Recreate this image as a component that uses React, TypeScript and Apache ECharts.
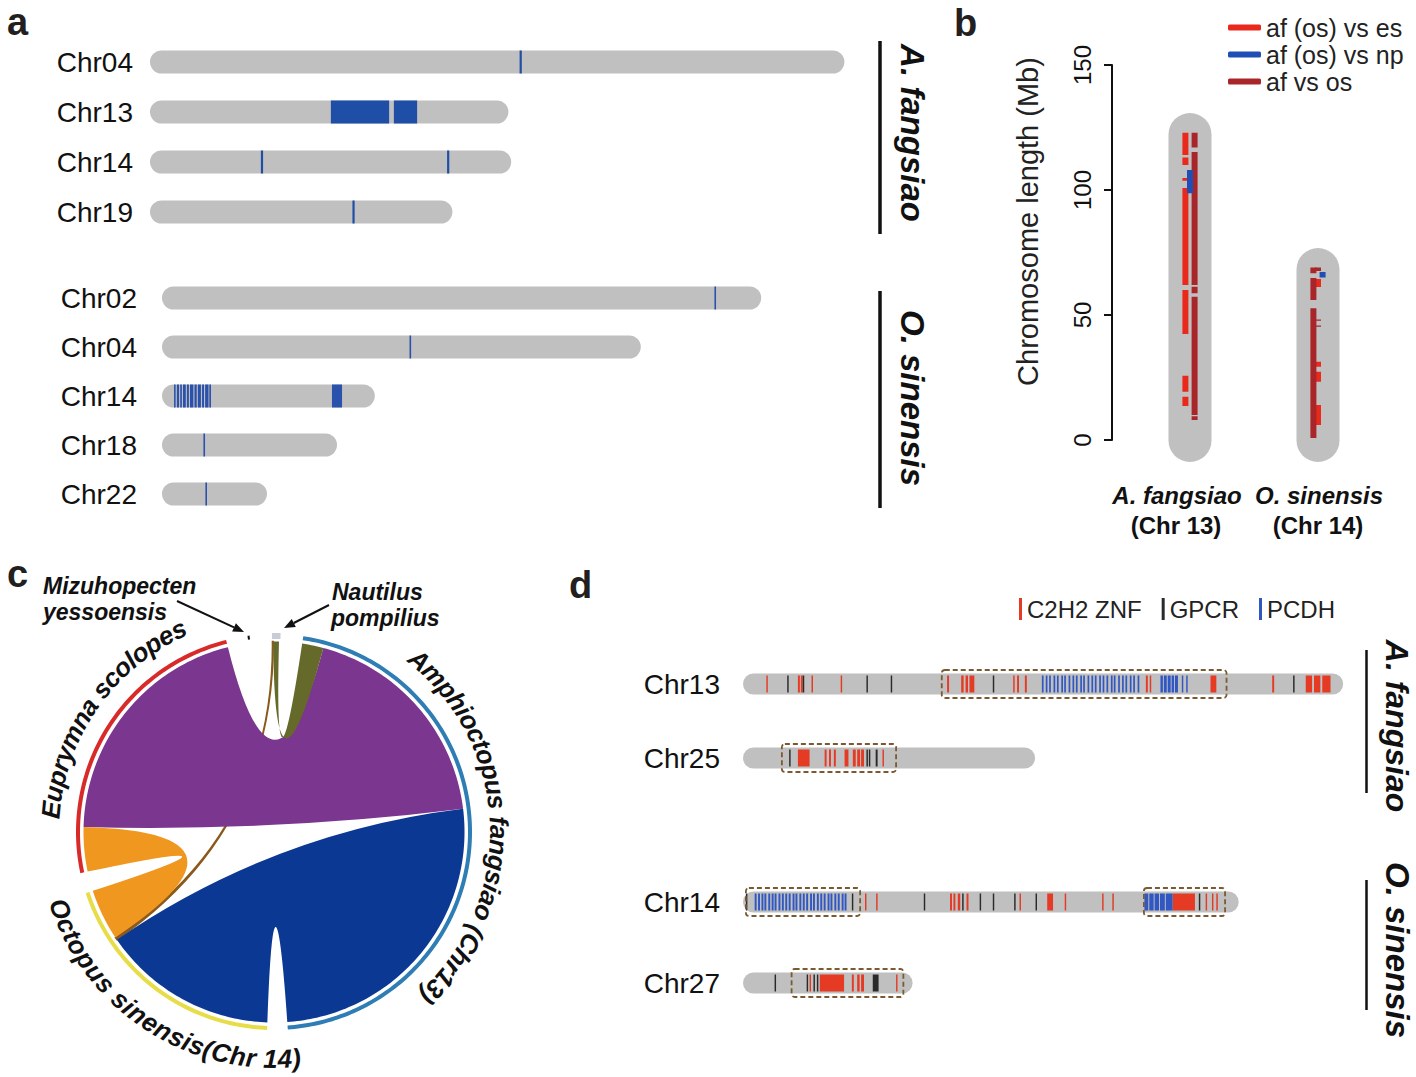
import React, { useEffect, useRef } from 'react';
import * as echarts from 'echarts';

const FONT = '"Liberation Sans", Arial, Helvetica, sans-serif';

// ---------------- Panel a ----------------
const aAfChroms = ['Chr04', 'Chr13', 'Chr14', 'Chr19'];
const aAfLengths = [248, 128, 129, 108];
const aAfBands = [
  [0, 132.0, 132.7], [1, 64.6, 85.4], [1, 87.1, 95.4], [2, 39.6, 40.3], [2, 106.1, 106.8], [3, 72.3, 73.0],
];
const aOsChroms = ['Chr02', 'Chr04', 'Chr14', 'Chr18', 'Chr22'];
const aOsLengths = [214, 171, 76, 62.5, 37.5];
const aOsBands = [
  [0, 197.3, 197.8], [1, 88.4, 88.9],
  [2, 4.3, 4.8], [2, 5.3, 6.1], [2, 6.5, 7.1], [2, 7.5, 8.5], [2, 8.9, 9.6], [2, 10.0, 11.2],
  [2, 11.6, 12.4], [2, 12.8, 13.9], [2, 14.3, 15.0], [2, 15.4, 16.6], [2, 16.9, 17.5], [2, 60.7, 64.3],
  [3, 14.8, 15.3], [4, 15.5, 16.0],
];

// ---------------- Panel b ----------------
const bCats = ['A. fangsiao (Chr 13)', 'O. sinensis (Chr 14)'];
const bChromLengths = [122, 68];
const bSeriesNames = ['af (os) vs es', 'af (os) vs np', 'af vs os'];
// [chromosome, lane, start Mb, end Mb]
const bVsEs = [
  [0, -1, 114, 122.9], [0, -1, 110, 113], [0, -1, 103.7, 104.8], [0, -1, 62, 100.8], [0, -1, 42.4, 60],
  [0, -1, 19.3, 25.7], [0, -1, 13.6, 17.3],
  [1, 0, 61.2, 64.4], [1, 0, 29.3, 31.3], [1, 0, 23.3, 27.3], [1, 0, 6, 14],
];
const bAfVsOs = [
  [0, 1, 117, 122.9], [0, 1, 62, 115.2], [0, 1, 58.7, 61.3], [0, 1, 10, 57.3], [0, 1, 8, 9.5],
  [1, -1, 66.7, 69], [1, 0, 67.6, 69], [1, -1, 56, 64.8], [1, -1, 0.8, 52.7], [1, 0, 47.7, 48.2], [1, 0, 45.3, 45.8],
];
const bVsNp = [[0, 0, 98.7, 108], [1, 1, 65, 67.2]];

// ---------------- Panel c ----------------
const cSpecies = ['Amphioctopus fangsiao (Chr13)', 'Octopus sinensis(Chr 14)', 'Euprymna scolopes', 'Mizuhopecten yessoensis', 'Nautilus pompilius'];
const cArcStart = [8.5, 182, 258, 352.3, -0.6];
const cArcEnd = [176, 252, 346, 352.9, 1.9];
// [startA, endA, startB, endB] in degrees clockwise from top
const cLinks = [
  [235.6, 236.4, 359.5, 359.8],
  [271.5, 346, 15, 83],
  [236.4, 252, 258, 271.5],
  [83, 176, 182, 235.6],
  [-0.2, 1.5, 8.5, 15],
];

// ---------------- Panel d ----------------
const dChroms = ['Chr13', 'Chr25', 'Chr14', 'Chr27'];
const dLengths = [123.5, 60.1, 102, 34.9];
const dFamilies = ['C2H2 ZNF', 'GPCR', 'PCDH'];
// [chromosome, position, width]
const dZnf = [
  [0, 4.8, 0.3], [0, 11.3, 0.4], [0, 11.9, 0.4], [0, 14.1, 0.3], [0, 20.1, 0.3], [0, 42.0, 0.4], [0, 44.9, 0.5],
  [0, 45.8, 0.5], [0, 46.6, 1.0], [0, 55.6, 0.3], [0, 56.4, 0.4], [0, 58.0, 0.4], [0, 82.9, 0.4], [0, 83.7, 0.3],
  [0, 96.2, 1.2], [0, 108.9, 0.4], [0, 115.8, 1.3], [0, 117.5, 1.3], [0, 119.2, 1.7],
  [1, 11.3, 2.4], [1, 16.8, 0.4], [1, 17.7, 0.4], [1, 18.7, 0.4], [1, 20.9, 0.8], [1, 22.6, 0.6], [1, 23.5, 0.6],
  [1, 24.3, 0.6], [1, 28.7, 0.3],
  [2, 25.1, 0.3], [2, 27.4, 0.3], [2, 42.6, 0.4], [2, 43.3, 0.4], [2, 44.2, 0.5], [2, 46.0, 0.4], [2, 56.9, 0.3],
  [2, 62.6, 1.2], [2, 66.2, 0.3], [2, 73.9, 0.3], [2, 76.0, 0.3], [2, 88.4, 4.6], [2, 95.2, 0.3], [2, 96.5, 0.3],
  [2, 97.4, 0.3],
  [3, 13.7, 0.3], [3, 15.8, 5.0], [3, 22.4, 0.4], [3, 23.5, 0.5], [3, 24.3, 0.6], [3, 31.5, 0.3],
];
const dGpcr = [
  [0, 9.1, 0.3], [0, 12.3, 0.3], [0, 25.4, 0.3], [0, 30.4, 0.3], [0, 51.4, 0.3], [0, 113.2, 0.3],
  [1, 9.5, 0.3], [1, 25.4, 0.3], [1, 25.9, 0.3], [1, 27.3, 0.4],
  [2, 0.6, 0.3], [2, 22.4, 0.3], [2, 37.2, 0.3], [2, 45.1, 0.3], [2, 48.7, 0.3], [2, 51.4, 0.3], [2, 55.8, 0.3],
  [2, 60.2, 0.3], [2, 93.8, 0.3],
  [3, 6.5, 0.3], [3, 13.1, 0.3], [3, 14.5, 0.3], [3, 15.2, 0.3], [3, 26.7, 1.2],
];
const dPcdh = [
  [0, 61.5, 0.35], [0, 62.3, 0.35], [0, 63.0, 0.35], [0, 63.9, 0.35], [0, 64.6, 0.35], [0, 65.5, 0.35],
  [0, 66.1, 0.35], [0, 67.0, 0.35], [0, 67.8, 0.35], [0, 68.5, 0.35], [0, 69.4, 0.35], [0, 70.0, 0.35],
  [0, 70.9, 0.35], [0, 71.7, 0.35], [0, 72.4, 0.35], [0, 73.3, 0.35], [0, 74.0, 0.35], [0, 74.8, 0.35],
  [0, 75.7, 0.35], [0, 76.3, 0.35], [0, 77.2, 0.35], [0, 78.0, 0.35], [0, 78.7, 0.35], [0, 79.6, 0.35],
  [0, 80.3, 0.35], [0, 81.2, 0.35], [0, 85.9, 0.5], [0, 86.6, 0.6], [0, 87.4, 0.6], [0, 88.2, 0.5],
  [0, 88.9, 0.6], [0, 90.3, 0.3], [0, 91.2, 0.3],
  [2, 2.4, 0.4], [2, 3.1, 0.4], [2, 3.8, 0.4], [2, 4.4, 0.4], [2, 5.2, 0.4], [2, 5.9, 0.4], [2, 6.5, 0.4],
  [2, 7.3, 0.4], [2, 8.0, 0.4], [2, 8.7, 0.4], [2, 9.4, 0.4], [2, 10.2, 0.4], [2, 10.8, 0.4], [2, 11.6, 0.4],
  [2, 12.3, 0.4], [2, 13.0, 0.4], [2, 13.8, 0.4], [2, 14.4, 0.4], [2, 15.2, 0.4], [2, 15.9, 0.4], [2, 16.6, 0.4],
  [2, 17.4, 0.4], [2, 18.0, 0.4], [2, 18.8, 0.4], [2, 19.5, 0.4], [2, 20.3, 0.4], [2, 20.9, 0.4],
  [2, 82.6, 0.8], [2, 83.6, 0.9], [2, 84.7, 0.9], [2, 85.8, 1.0], [2, 87.0, 1.4],
];
// [chromosome, start, end]
const dBoxes = [[0, 40.9, 99.5], [1, 8.0, 31.5], [2, 0.6, 24.1], [2, 82.5, 99.2], [3, 10.0, 33.0]];

// ---------------- styles ----------------
const GRAY = '#c0c0c0';
const C_CX = 274;
const C_CY = 832;
const C_R = 196;
const ringColors = ['#2e7db4', '#e7dd48', '#d92a2a', '#111111', '#c9ccd6'];
const ringWidths = [4, 4, 4, 4, 6];
const linkColors = ['#8a5a1c', '#7b368f', '#f0971f', '#0a3893', '#656a2b'];
const bColors = ['#e8291c', '#1f4fb4', '#a8262a'];
const dColors = ['#e53a24', '#2a2a2a', '#3157c2'];

const norm = (a: number) => ((a % 360) + 360) % 360;

function txt(x: number, y: number, text: string, size: number, opts: any = {}) {
  const style: any = {
    text,
    fontSize: size,
    fontFamily: FONT,
    fontWeight: opts.weight || 'normal',
    fontStyle: opts.italic ? 'italic' : 'normal',
    fill: opts.fill || '#111',
    align: opts.align || 'left',
    textAlign: opts.align || 'left',
    verticalAlign: 'middle',
    textVerticalAlign: 'middle',
  };
  if (opts.lineHeight) style.lineHeight = opts.lineHeight;
  return { type: 'text', x, y, rotation: opts.rotation || 0, style };
}

function arrow(x1: number, y1: number, x2: number, y2: number) {
  const ang = Math.atan2(y2 - y1, x2 - x1);
  const L = 11, W = 4.5;
  const bx = x2 - L * Math.cos(ang), by = y2 - L * Math.sin(ang);
  return [
    { type: 'line', shape: { x1, y1, x2: bx, y2: by }, style: { stroke: '#111', lineWidth: 2 } },
    {
      type: 'polygon',
      shape: {
        points: [
          [x2, y2],
          [bx + W * Math.sin(ang), by - W * Math.cos(ang)],
          [bx - W * Math.sin(ang), by + W * Math.cos(ang)],
        ],
      },
      style: { fill: '#111' },
    },
  ];
}

function arcLabel(text: string, midDeg: number, r: number, dir: number, size: number) {
  const ctx = document.createElement('canvas').getContext('2d') as CanvasRenderingContext2D;
  ctx.font = `italic bold ${size}px "Liberation Sans"`;
  const chars = Array.from(text);
  const ws = chars.map((ch) => ctx.measureText(ch).width);
  const total = ws.reduce((s, w) => s + w, 0);
  const mid = (midDeg * Math.PI) / 180;
  const els: any[] = [];
  let acc = 0;
  chars.forEach((ch, i) => {
    const off = (acc + ws[i] / 2 - total / 2) / r;
    acc += ws[i];
    if (ch === ' ') return;
    const th = mid + dir * off;
    const x = C_CX + r * Math.sin(th);
    const y = C_CY - r * Math.cos(th);
    const rot = dir === 1 ? -th : Math.PI - th;
    els.push(txt(x, y, ch, size, { rotation: rot, weight: 'bold', italic: true, align: 'center' }));
  });
  return els;
}

function hChrom(h: number) {
  return (params: any, api: any) => {
    const row = api.value(0);
    const len = api.value(1);
    const p0 = api.coord([0, row]);
    const p1 = api.coord([len, row]);
    return {
      type: 'rect',
      shape: { x: p0[0], y: p0[1] - h / 2, width: p1[0] - p0[0], height: h, r: h / 2 },
      style: { fill: GRAY },
    };
  };
}

function hBand(h: number, color: string, minW: number) {
  return (params: any, api: any) => {
    const row = api.value(0);
    const p0 = api.coord([api.value(1), row]);
    const p1 = api.coord([api.value(2), row]);
    return {
      type: 'rect',
      shape: { x: p0[0], y: p0[1] - h / 2, width: Math.max(p1[0] - p0[0], minW), height: h },
      style: { fill: color },
    };
  };
}

function hBox(params: any, api: any) {
  const row = api.value(0);
  const p0 = api.coord([api.value(1), row]);
  const p1 = api.coord([api.value(2), row]);
  const h = 28;
  return {
    type: 'rect',
    shape: { x: p0[0], y: p0[1] - h / 2, width: p1[0] - p0[0], height: h, r: 3 },
    style: { fill: 'none', stroke: '#7a5a30', lineWidth: 1.8, lineDash: [5, 3] },
  };
}

function vPill(params: any, api: any) {
  const cat = api.value(0);
  const len = api.value(1);
  const top = api.coord([cat, len + 8.8]);
  const bot = api.coord([cat, -8.8]);
  const w = 43;
  return {
    type: 'rect',
    shape: { x: top[0] - w / 2, y: top[1], width: w, height: bot[1] - top[1], r: w / 2 },
    style: { fill: GRAY },
  };
}

function vSeg(color: string) {
  return (params: any, api: any) => {
    const cat = api.value(0);
    const lane = api.value(1);
    const a = api.coord([cat, api.value(3)]);
    const b = api.coord([cat, api.value(2)]);
    const w = 6;
    return {
      type: 'rect',
      shape: { x: a[0] + lane * 4.6 - w / 2, y: a[1], width: w, height: Math.max(b[1] - a[1], 1.2) },
      style: { fill: color },
    };
  };
}

function ringItem(params: any, api: any) {
  const s = api.value(0), e = api.value(1), i = api.value(2);
  const n = Math.max(2, Math.ceil((e - s) / 1));
  const pts: number[][] = [];
  for (let k = 0; k <= n; k++) pts.push(api.coord([1, norm(s + ((e - s) * k) / n)]));
  return {
    type: 'polyline',
    shape: { points: pts },
    style: { stroke: ringColors[i], lineWidth: ringWidths[i], fill: null },
  };
}

function ribbonItem(params: any, api: any) {
  const a1 = api.value(0), a2 = api.value(1), b1 = api.value(2), b2 = api.value(3), ci = api.value(4);
  const R = 0.972;
  const c = api.coord([0, 0]);
  const arc = (s: number, e: number) => {
    const n = Math.max(2, Math.ceil(Math.abs(e - s)));
    const pts: number[][] = [];
    for (let k = 0; k <= n; k++) pts.push(api.coord([R, norm(s + ((e - s) * k) / n)]));
    return pts;
  };
  const A = arc(a1, a2);
  const B = arc(b1, b2);
  const f = (p: number[]) => p[0].toFixed(2) + ' ' + p[1].toFixed(2);
  let d = 'M' + f(A[0]);
  A.slice(1).forEach((p) => (d += 'L' + f(p)));
  d += 'Q' + f(c) + ' ' + f(B[0]);
  B.slice(1).forEach((p) => (d += 'L' + f(p)));
  d += 'Q' + f(c) + ' ' + f(A[0]) + 'Z';
  const thin = ci < 1;
  return {
    type: 'path',
    shape: { pathData: d },
    style: { fill: linkColors[ci], stroke: thin ? linkColors[ci] : null, lineWidth: thin ? 1.3 : 0 },
  };
}

function buildOption() {
  const dSplit = (arr: number[][], half: number) =>
    arr.filter((r) => (half === 0 ? r[0] < 2 : r[0] >= 2)).map((r) => [half === 0 ? r[0] : r[0] - 2, r[1], r[1] + r[2]]);
  const dBoxSplit = (half: number) =>
    dBoxes.filter((r) => (half === 0 ? r[0] < 2 : r[0] >= 2)).map((r) => [half === 0 ? r[0] : r[0] - 2, r[1], r[2]]);
  const dFamData = [dZnf, dGpcr, dPcdh];

  const catLabel = (size: number, margin: number) => ({
    fontSize: size,
    fontFamily: FONT,
    color: '#111',
    margin,
  });
  const hiddenCat = (data: string[], size: number, margin: number, gridIndex: number) => ({
    type: 'category',
    gridIndex,
    data,
    inverse: true,
    axisLine: { show: false },
    axisTick: { show: false },
    axisLabel: catLabel(size, margin),
  });
  const hiddenVal = (max: number, gridIndex: number) => ({
    type: 'value', gridIndex, min: 0, max, show: false, splitLine: { show: false },
  });

  const series: any[] = [];
  // panel a
  series.push({ type: 'custom', xAxisIndex: 0, yAxisIndex: 0, renderItem: hChrom(23), encode: { x: 1, y: 0 }, data: aAfLengths.map((l, i) => [i, l]), silent: true });
  series.push({ type: 'custom', xAxisIndex: 0, yAxisIndex: 0, renderItem: hBand(23, '#1f4ea6', 2.2), encode: { x: [1, 2], y: 0 }, data: aAfBands, silent: true });
  series.push({ type: 'custom', xAxisIndex: 1, yAxisIndex: 1, renderItem: hChrom(23), encode: { x: 1, y: 0 }, data: aOsLengths.map((l, i) => [i, l]), silent: true });
  series.push({ type: 'custom', xAxisIndex: 1, yAxisIndex: 1, renderItem: hBand(23, '#2a52ac', 1.6), encode: { x: [1, 2], y: 0 }, data: aOsBands, silent: true });
  // panel b
  series.push({ type: 'custom', xAxisIndex: 2, yAxisIndex: 2, renderItem: vPill, encode: { x: 0, y: 1 }, data: bChromLengths.map((l, i) => [i, l]), silent: true });
  [bVsEs, bAfVsOs, bVsNp].forEach((arr, k) => {
    const idx = k === 0 ? 0 : k === 1 ? 2 : 1;
    series.push({
      type: 'custom', name: bSeriesNames[idx], xAxisIndex: 2, yAxisIndex: 2,
      itemStyle: { color: bColors[idx] }, renderItem: vSeg(bColors[idx]), encode: { x: 0, y: [2, 3] }, data: arr, silent: true,
    });
  });
  // panel c
  series.push({
    type: 'custom', coordinateSystem: 'polar', polarIndex: 0, renderItem: ribbonItem, silent: true,
    data: cLinks.map((l, i) => [l[0], l[1], l[2], l[3], i]),
  });
  series.push({
    type: 'custom', coordinateSystem: 'polar', polarIndex: 0, renderItem: ringItem, silent: true,
    data: cSpecies.map((s, i) => [cArcStart[i], cArcEnd[i], i]),
  });
  // panel d
  [0, 1].forEach((half) => {
    series.push({ type: 'custom', xAxisIndex: 3 + half, yAxisIndex: 3 + half, renderItem: hChrom(21), encode: { x: 1, y: 0 }, data: dLengths.slice(half * 2, half * 2 + 2).map((l, i) => [i, l]), silent: true });
    dFamData.forEach((arr, k) => {
      series.push({
        type: 'custom', name: dFamilies[k], xAxisIndex: 3 + half, yAxisIndex: 3 + half, itemStyle: { color: dColors[k] },
        renderItem: hBand(17, dColors[k], 1.4), encode: { x: [1, 2], y: 0 }, data: dSplit(arr, half), silent: true,
      });
    });
    series.push({ type: 'custom', xAxisIndex: 3 + half, yAxisIndex: 3 + half, renderItem: hBox, encode: { x: [1, 2], y: 0 }, data: dBoxSplit(half), silent: true });
  });

  const graphic: any[] = [
    txt(7, 22, 'a', 38, { weight: 'bold', fill: '#231f20' }),
    txt(954, 23, 'b', 38, { weight: 'bold', fill: '#231f20' }),
    txt(7, 574, 'c', 38, { weight: 'bold', fill: '#231f20' }),
    txt(569, 585, 'd', 38, { weight: 'bold', fill: '#231f20' }),
    // panel a species
    { type: 'line', shape: { x1: 880, y1: 41, x2: 880, y2: 234 }, style: { stroke: '#111', lineWidth: 3.5 } },
    { type: 'line', shape: { x1: 880, y1: 291, x2: 880, y2: 508 }, style: { stroke: '#111', lineWidth: 3.5 } },
    txt(912, 133, 'A. fangsiao', 33, { weight: 'bold', italic: true, align: 'center', rotation: -Math.PI / 2 }),
    txt(912, 398, 'O. sinensis', 33, { weight: 'bold', italic: true, align: 'center', rotation: -Math.PI / 2 }),
    // panel d species
    { type: 'line', shape: { x1: 1366.5, y1: 650, x2: 1366.5, y2: 793 }, style: { stroke: '#111', lineWidth: 2.5 } },
    { type: 'line', shape: { x1: 1366.5, y1: 880, x2: 1366.5, y2: 1010 }, style: { stroke: '#111', lineWidth: 2.5 } },
    txt(1397, 726, 'A. fangsiao', 32, { weight: 'bold', italic: true, align: 'center', rotation: -Math.PI / 2 }),
    txt(1397, 950, 'O. sinensis', 33, { weight: 'bold', italic: true, align: 'center', rotation: -Math.PI / 2 }),
    // panel b x labels
    txt(1177, 495, 'A. fangsiao', 24, { weight: 'bold', italic: true, align: 'center' }),
    txt(1176, 525, '(Chr 13)', 24, { weight: 'bold', align: 'center' }),
    txt(1319, 495, 'O. sinensis', 24, { weight: 'bold', italic: true, align: 'center' }),
    txt(1318, 525, '(Chr 14)', 24, { weight: 'bold', align: 'center' }),
    // panel c top labels
    txt(43, 586, 'Mizuhopecten', 23, { weight: 'bold', italic: true }),
    txt(43, 612, 'yessoensis', 23, { weight: 'bold', italic: true }),
    txt(332, 592, 'Nautilus', 23, { weight: 'bold', italic: true }),
    txt(331, 618, 'pompilius', 23, { weight: 'bold', italic: true }),
    ...arrow(177, 601, 244, 632),
    ...arrow(329, 605, 284, 628),
    ...arcLabel(cSpecies[2], 305, 224, 1, 26),
    ...arcLabel(cSpecies[0], 88, 225, 1, 26),
    ...arcLabel(cSpecies[1], 213, 227, -1, 26),
  ];

  return {
    animation: false,
    backgroundColor: '#ffffff',
    textStyle: { fontFamily: FONT },
    tooltip: { show: false },
    legend: [
      {
        data: bSeriesNames, orient: 'vertical', left: 1223, top: 10, itemWidth: 33, itemHeight: 6, itemGap: 2,
        icon: 'roundRect', selectedMode: false, textStyle: { fontSize: 25, color: '#222', fontFamily: FONT },
      },
      {
        data: dFamilies, orient: 'horizontal', left: 1014, top: 592, itemWidth: 3, itemHeight: 22, itemGap: 20,
        icon: 'rect', selectedMode: false, textStyle: { fontSize: 24, color: '#222', fontFamily: FONT },
      },
    ],
    grid: [
      { left: 150, top: 37, width: 700, height: 200 },
      { left: 162, top: 273.5, width: 700, height: 245 },
      { left: 1126, top: 65, width: 256, height: 375 },
      { left: 743, top: 647, width: 602.6, height: 148 },
      { left: 743, top: 861.5, width: 602.6, height: 162 },
    ],
    xAxis: [
      hiddenVal(250, 0),
      hiddenVal(250, 1),
      { type: 'category', gridIndex: 2, data: bCats, show: false },
      hiddenVal(124, 3),
      hiddenVal(124, 4),
    ],
    yAxis: [
      hiddenCat(aAfChroms, 28, 17, 0),
      hiddenCat(aOsChroms, 28, 25, 1),
      {
        type: 'value', gridIndex: 2, min: 0, max: 150, interval: 50, offset: 14,
        name: 'Chromosome length (Mb)', nameLocation: 'middle', nameGap: 70, nameRotate: 90,
        nameTextStyle: { fontSize: 29, color: '#222', fontFamily: FONT, padding: [0, 0, 0, 62] },
        axisLine: { show: true, lineStyle: { color: '#111', width: 2 } },
        axisTick: { show: true, length: 8, lineStyle: { color: '#111', width: 2 } },
        axisLabel: { rotate: 90, fontSize: 24, color: '#111', margin: 18, fontFamily: FONT },
        splitLine: { show: false },
      },
      hiddenCat(dChroms.slice(0, 2), 28, 23, 3),
      hiddenCat(dChroms.slice(2, 4), 28, 23, 4),
    ],
    polar: { center: [C_CX, C_CY], radius: C_R },
    angleAxis: { type: 'value', min: 0, max: 360, startAngle: 90, clockwise: true, show: false, splitLine: { show: false } },
    radiusAxis: { type: 'value', min: 0, max: 1, show: false, splitLine: { show: false } },
    series,
    graphic,
  };
}

export default function App() {
  const ref = useRef<HTMLDivElement>(null);
  useEffect(() => {
    if (!ref.current) return;
    const chart = echarts.init(ref.current, null, { renderer: 'svg' });
    chart.setOption(buildOption() as any);
    return () => chart.dispose();
  }, []);
  return (
    <div
      ref={ref}
      style={{ position: 'absolute', left: 0, top: 0, width: 1416, height: 1077, background: '#fff' }}
    />
  );
}
